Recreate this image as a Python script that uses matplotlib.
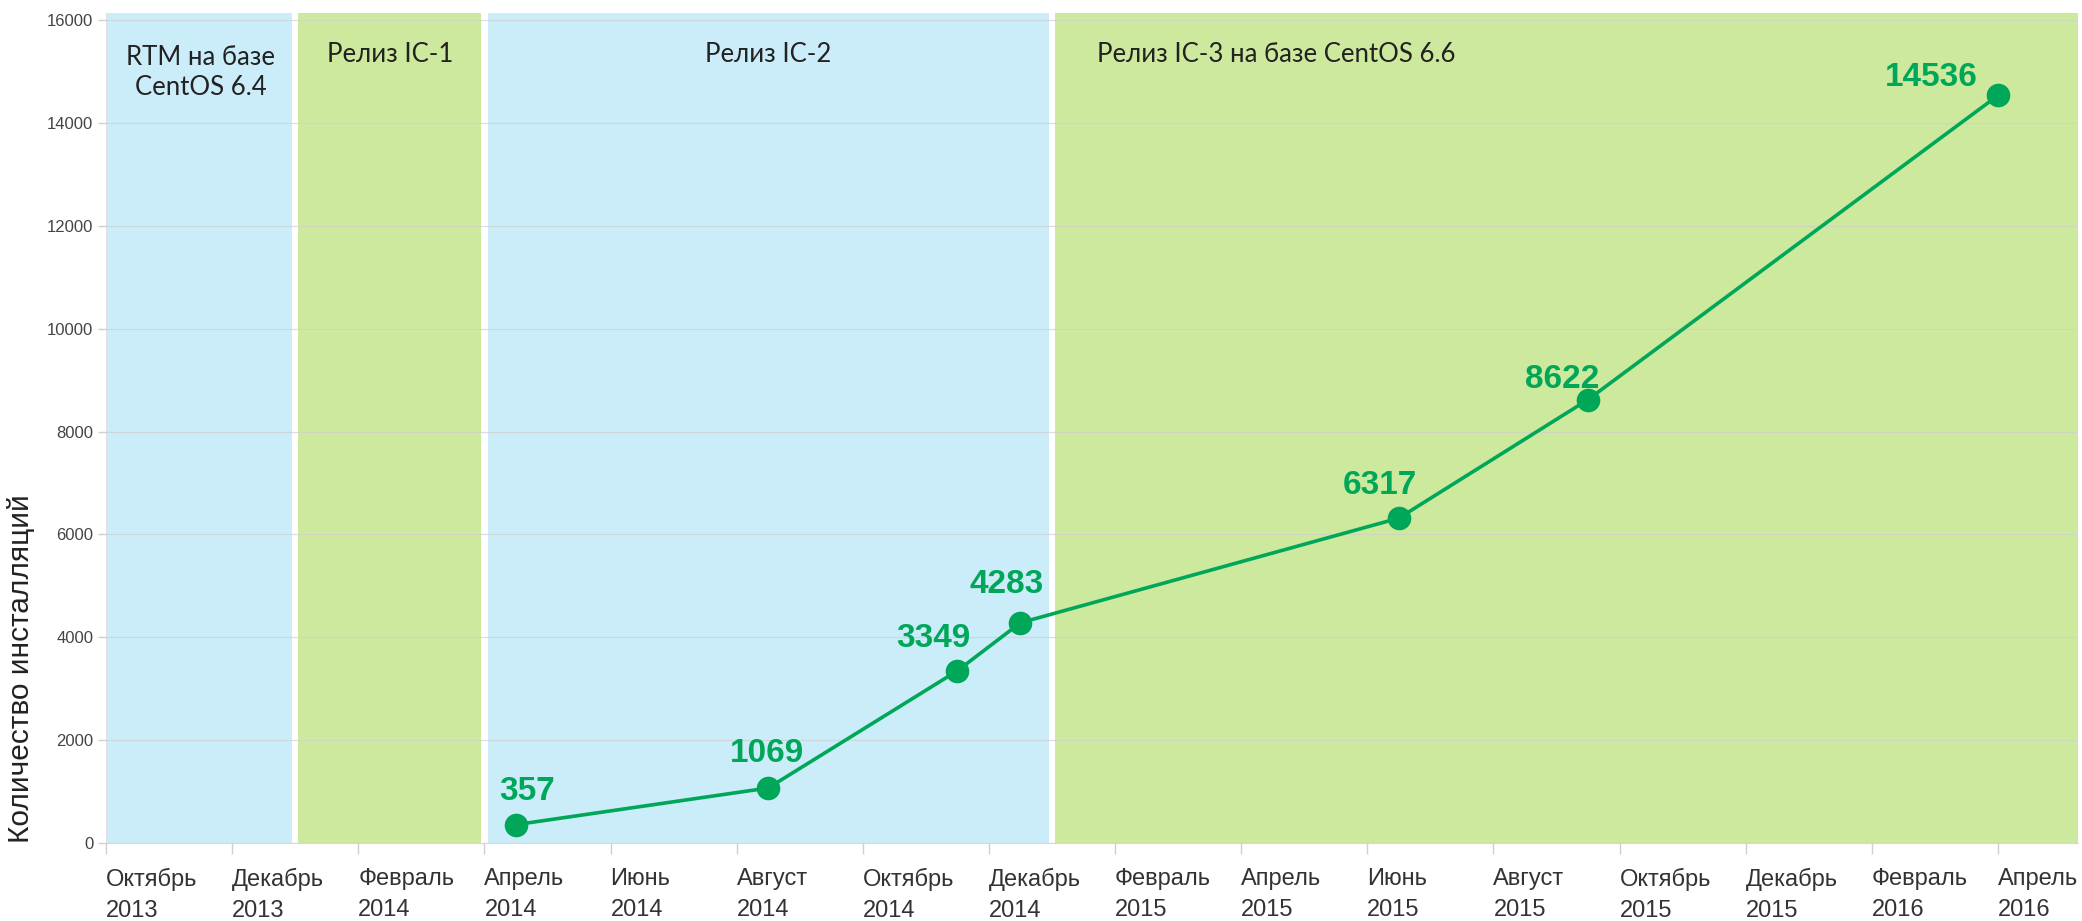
import matplotlib
matplotlib.use('Agg')
import matplotlib.pyplot as plt

plt.rcParams['font.family'] = ['Liberation Sans', 'DejaVu Sans']

# months counted from October 2013 (0 = start of Oct 2013)
point_months = [6.5, 10.5, 13.5, 14.5, 20.5, 23.5, 30.0]
installs = [357, 1069, 3349, 4283, 6317, 8622, 14536]

tick_months = list(range(0, 31, 2))
tick_labels = ['Октябрь\n2013', 'Декабрь\n2013', 'Февраль\n2014', 'Апрель\n2014',
               'Июнь\n2014', 'Август\n2014', 'Октябрь\n2014', 'Декабрь\n2014',
               'Февраль\n2015', 'Апрель\n2015', 'Июнь\n2015', 'Август\n2015',
               'Октябрь\n2015', 'Декабрь\n2015', 'Февраль\n2016', 'Апрель\n2016']

# release periods: start month, end month, label
release_starts = [0, 3, 6, 15]
release_ends = [3, 6, 15, 31.3]
release_names = ['RTM на базе\nCentOS 6.4', 'Релиз IC-1', 'Релиз IC-2',
                 'Релиз IC-3 на базе CentOS 6.6']

y_ticks = [0, 2000, 4000, 6000, 8000, 10000, 12000, 14000, 16000]

# styling
line_green = '#00a759'
span_colors = ['#cbedf9', '#cde99e', '#cbedf9', '#cde99e']
name_x = [1.5, 4.5, 10.5, 18.55]
label_offsets = [(11, 25), (-1, 26), (-24, 24), (-14, 30), (-19, 24), (-26, 12), (-67, 9)]
gap = 0.05

fig = plt.figure(figsize=(20.82, 9.21), dpi=100)
ax = fig.add_axes([106 / 2082, 78 / 921, 1972 / 2082, 830 / 921])

xmax = 31.27
ymax = 16140
ax.set_xlim(0, xmax)
ax.set_ylim(0, ymax)
px_to_y = ymax / 830.0

for i in range(len(release_starts)):
    s = release_starts[i] + (gap if i > 0 else 0)
    e = min(release_ends[i], xmax) - (gap if release_ends[i] < xmax else 0)
    ax.axvspan(s, e, color=span_colors[i], lw=0, zorder=0)
    # first baseline ~62px from top, next lines ~33px lower
    nlines = release_names[i].count('\n') + 1
    base_px = 62 + (nlines - 1) * 33
    ax.text(name_x[i], ymax - (base_px - 13) * px_to_y, release_names[i],
            ha='center', va='baseline', fontsize=18.5,
            family=['Lato', 'DejaVu Sans'], color='#222222',
            linespacing=1.25, zorder=3)

ax.set_axisbelow(False)
ax.grid(axis='y', color='#cfcfcf', lw=0.9, alpha=0.7, zorder=1)
ax.grid(axis='x', visible=False)

ax.plot(point_months, installs, color=line_green, lw=2.6, marker='o',
        markersize=17, markeredgewidth=0, zorder=4)

for m, v, (dx, dy) in zip(point_months, installs, label_offsets):
    ax.annotate(str(v), (m, v), xytext=(dx, dy), textcoords='offset pixels',
                ha='center', va='baseline', fontsize=24, fontweight='bold',
                color=line_green, zorder=5)

ax.set_xticks(tick_months)
ax.set_xticklabels(tick_labels, ha='left', fontsize=17, color='#333333',
                   linespacing=1.5)
ax.tick_params(axis='x', length=8, width=1, color='#d0d0d0', pad=10)
ax.set_yticks(y_ticks)
ax.set_yticklabels([str(t) for t in y_ticks], fontsize=12, color='#444444')
ax.tick_params(axis='y', length=6, width=1, color='#d0d0d0', pad=3)

for side in ['top', 'right']:
    ax.spines[side].set_visible(False)
ax.spines['left'].set_color('#e0e0e0')
ax.spines['bottom'].set_color('#d8d8d8')

fig.text(21 / 2082, 78 / 921, 'Количество инсталляций', rotation=90,
         ha='center', va='bottom', fontsize=21.5, color='#222222')

fig.savefig('out.png', dpi=100)
